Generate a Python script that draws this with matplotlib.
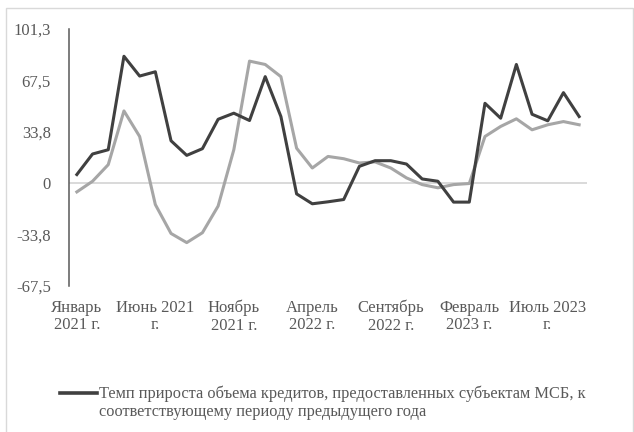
import matplotlib
matplotlib.use('Agg')
import matplotlib.pyplot as plt
from matplotlib.lines import Line2D
from matplotlib.patches import Rectangle

plt.rcParams['font.family'] = ['Liberation Serif', 'DejaVu Serif']

# monthly values, Jan 2021 .. Sep 2023
months = list(range(33))
loans_growth = [5.7, 19.2, 22.0, 83.4, 70.4, 73.2, 27.9, 18.3, 22.7, 42.0,
                46.0, 41.2, 70.0, 43.8, -7.0, -13.5, -12.2, -10.7, 11.1, 14.8,
                14.8, 12.6, 2.8, 1.3, -12.4, -12.4, 52.5, 42.7, 78.0, 45.3,
                41.0, 59.5, 43.8]
second_series = [-5.7, 1.3, 12.2, 47.5, 30.7, -14.0, -33.0, -39.0, -32.5, -15.0,
                 22.0, 80.2, 78.0, 70.0, 23.0, 10.0, 17.6, 16.1, 13.3, 14.0,
                 10.0, 3.5, -0.9, -3.0, -0.9, -0.2, 30.7, 37.3, 42.3, 35.1,
                 38.4, 40.5, 38.4]

tick_pos = [0, 5, 10, 15, 20, 25, 30]
tick_labels = ['Январь\n2021 г.', 'Июнь 2021\nг.', 'Ноябрь\n2021 г.', 'Апрель\n2022 г.',
               'Сентябрь\n2022 г.', 'Февраль\n2023 г.', 'Июль 2023\nг.']
y_ticks = [-67.5, -33.8, 0, 33.8, 67.5, 101.3]
legend_label = ('Темп прироста объема кредитов, предоставленных субъектам МСБ, к\n'
                'соответствующему периоду предыдущего года')

text_color = '#595959'

fig = plt.figure(figsize=(6.34, 4.32), dpi=100)
fig.patches.append(Rectangle((6 / 634, -0.01), 627 / 634, 1 - 8 / 432 + 0.01,
                             transform=fig.transFigure, fill=False,
                             edgecolor='#d9d9d9', linewidth=1.0))

ax = fig.add_axes([69 / 634, 1 - 286 / 432, 518 / 634, 257 / 432])

ax.axhline(0, color='#d9d9d9', linewidth=1.4, zorder=1)
ax.plot(months, second_series, color='#a6a6a6', linewidth=2.2, zorder=2)
ax.plot(months, loans_growth, color='#404040', linewidth=2.2, zorder=3)

ax.set_xlim(-0.5, 32.5)
ax.set_ylim(-67.5, 101.3)
ax.set_yticks(y_ticks)
ax.set_yticklabels([f'{v:g}'.replace('.', ',') for v in y_ticks])
ax.set_xticks(tick_pos)
ax.set_xticklabels(tick_labels, linespacing=1.12)
ax.tick_params(axis='y', length=0, pad=13, labelsize=12, labelcolor=text_color)
ax.tick_params(axis='x', length=0, pad=10, labelsize=12, labelcolor=text_color)

for side in ['top', 'right', 'bottom']:
    ax.spines[side].set_visible(False)
ax.spines['left'].set_color('#595959')
ax.spines['left'].set_linewidth(1.1)

# legend (only the first series is shown in the original)
y_leg = 1 - 393 / 432
fig.add_artist(Line2D([60 / 634, 97 / 634], [y_leg, y_leg], transform=fig.transFigure,
                      color='#404040', linewidth=2.6))
fig.text(99 / 634, y_leg + 0.018, legend_label, ha='left', va='top', fontsize=11.8,
         color=text_color, linespacing=1.15)

fig.savefig('out.png', dpi=100)
